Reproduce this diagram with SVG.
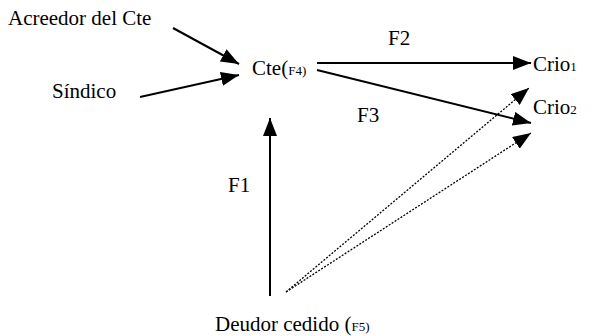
<svg xmlns="http://www.w3.org/2000/svg" width="594" height="336" viewBox="0 0 594 336">
<style>
text{font-family:"Liberation Serif","Times New Roman",serif;font-size:21px;fill:#000}
.s{font-size:13px}
.ln{stroke:#000;stroke-width:2;fill:none}
.dt{stroke:#000;stroke-width:1.3;stroke-dasharray:2 1.5;fill:none}
</style>
<defs>
<marker id="ah" viewBox="0 0 18 14" refX="18" refY="7" markerWidth="18" markerHeight="14" markerUnits="userSpaceOnUse" orient="auto">
<path d="M0,0 L18,7 L0,14 Z" fill="#000"/>
</marker>
</defs>
<rect width="594" height="336" fill="#fff"/>
<g id="connectors">
<line class="ln" x1="173" y1="28" x2="239" y2="64" marker-end="url(#ah)"/>
<line class="ln" x1="140" y1="97" x2="239" y2="75" marker-end="url(#ah)"/>
<line class="ln" x1="317" y1="63" x2="531" y2="63" marker-end="url(#ah)"/>
<line class="ln" x1="317" y1="70" x2="531" y2="123" marker-end="url(#ah)"/>
<line class="ln" x1="270" y1="296" x2="270" y2="118" marker-end="url(#ah)"/>
<line class="dt" x1="286" y1="292" x2="529" y2="88" marker-end="url(#ah)"/>
<line class="dt" x1="286" y1="292" x2="531" y2="133" marker-end="url(#ah)"/>
</g>
<g id="acreedor"><text x="8" y="25">Acreedor del Cte</text></g>
<g id="sindico"><text x="52" y="98">Síndico</text></g>
<g id="cte"><text x="252" y="75">Cte(<tspan class="s">F4)</tspan></text></g>
<g id="crio1"><text x="533" y="71">Crio<tspan class="s">1</tspan></text></g>
<g id="crio2"><text x="533" y="114">Crio<tspan class="s">2</tspan></text></g>
<g id="deudor"><text x="215" y="331">Deudor cedido (<tspan class="s">F5)</tspan></text></g>
<g id="labels">
<text x="388" y="45">F2</text>
<text x="357" y="122">F3</text>
<text x="228" y="192">F1</text>
</g>
</svg>
